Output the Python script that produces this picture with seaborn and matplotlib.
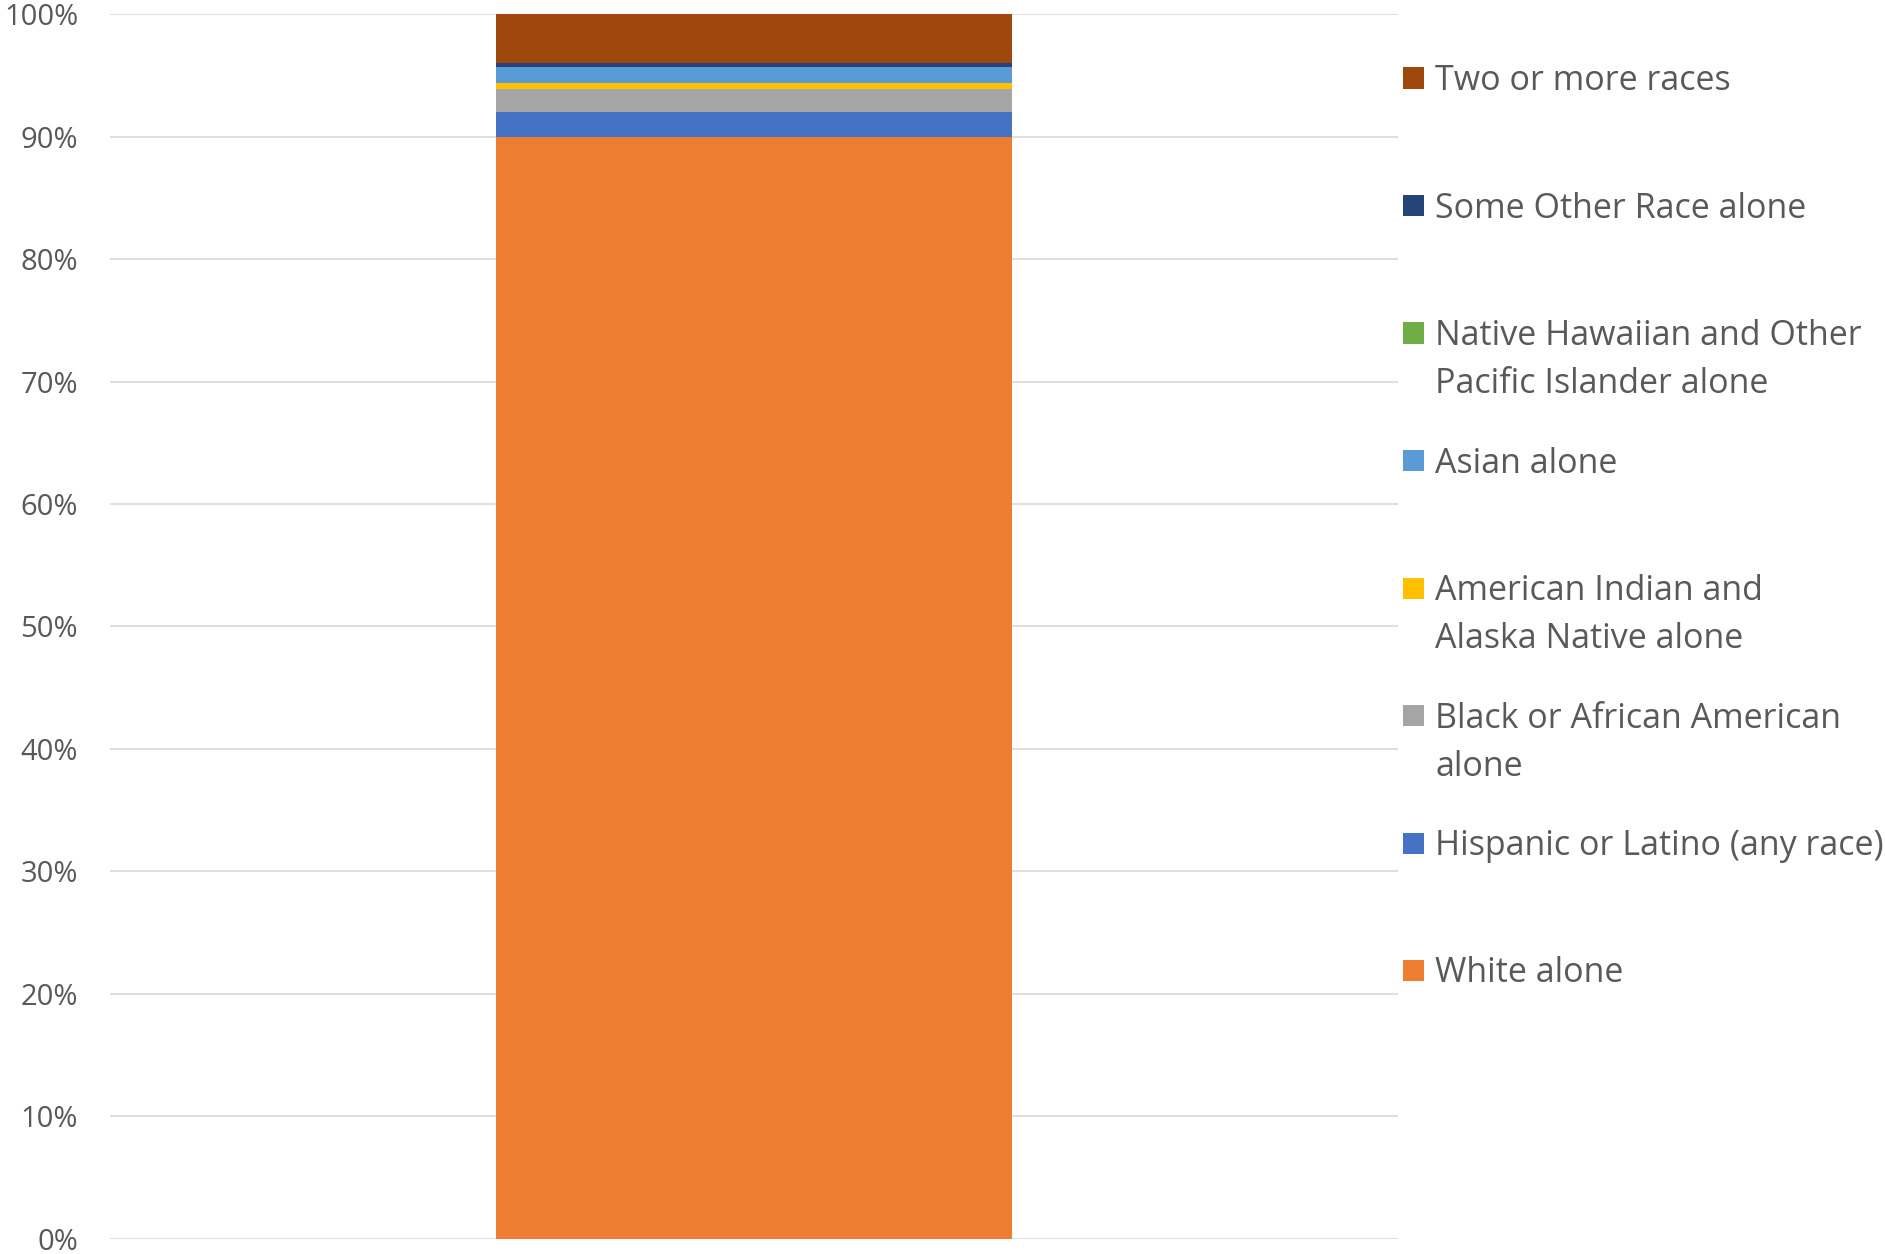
import matplotlib
matplotlib.use("Agg")
import matplotlib.pyplot as plt
import matplotlib.patches as mpatches
import numpy as np
import seaborn as sns

# Data (bottom to top of the stacked bar, in %)
groups = [
    "White alone",
    "Hispanic or Latino (any race)",
    "Black or African American\nalone",
    "American Indian and\nAlaska Native alone",
    "Asian alone",
    "Native Hawaiian and Other\nPacific Islander alone",
    "Some Other Race alone",
    "Two or more races",
]
shares = [90.0, 2.0, 1.86, 0.55, 1.23, 0.05, 0.33, 3.98]
colors = ["#ED7D31", "#4472C4", "#A5A5A5", "#FFC000",
          "#5B9BD5", "#70AD47", "#264478", "#9E480E"]

sns.set_theme(style="white")
plt.rcParams["font.family"] = ["Open Sans", "DejaVu Sans"]

fig = plt.figure(figsize=(18.85, 12.54), dpi=100)
ax = fig.add_axes([0.0584, 0.0120, 0.6832, 0.9768])

# Stacked bar: draw cumulative totals, tallest first
tops = np.cumsum(shares)
for top, col in reversed(list(zip(tops, colors))):
    sns.barplot(x=["all"], y=[top], color=col, width=0.4,
                saturation=1, linewidth=0, ax=ax, zorder=3)

ax.set_xlim(-0.5, 0.5)
ax.set_ylim(0, 100)
ax.set_yticks(np.arange(0, 101, 10))
ax.set_yticklabels([f"{v}%" for v in range(0, 101, 10)])
ax.set_xticks([])
ax.set_xlabel("")
ax.set_ylabel("")
ax.tick_params(axis="y", length=0, pad=23, labelsize=21, labelcolor="#595959")
ax.yaxis.grid(True, color="#d9d9d9", linewidth=1.2, zorder=0)
for s in ax.spines.values():
    s.set_visible(False)

# Legend, Excel style: top entry first, evenly spaced, marker on first line
W, H = 1885, 1254
first_y, step, line_h = 78, 127.5, 48
for i, (lab, col) in enumerate(zip(reversed(groups), reversed(colors))):
    yc = first_y + i * step
    n_lines = lab.count("\n") + 1
    fig.patches.append(mpatches.Rectangle(
        (1403 / W, 1 - (yc + 10.5) / H), 21 / W, 21 / H,
        transform=fig.transFigure, facecolor=col, edgecolor="none"))
    # baseline of multi-line text sits on its last line
    base = yc + 12 + (n_lines - 1) * line_h
    fig.text(1435 / W, 1 - base / H, lab, fontsize=24.5, color="#595959",
             va="baseline", ha="left", linespacing=1.53)

fig.savefig("out.png", dpi=100)
